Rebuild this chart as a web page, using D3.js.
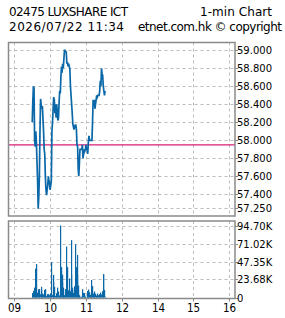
<!DOCTYPE html>
<html lang="en">
<head>
<meta charset="UTF-8">
<title>02475 1-min Chart</title>
<script src="https://cdn.jsdelivr.net/npm/d3@7/dist/d3.min.js"></script>
<style>
  body { margin: 0; background: #fff; }
  text { font-family: "DejaVu Sans", sans-serif; fill: #000; }
</style>
</head>
<body>
<script>
// chart data
var title = "02475 LUXSHARE ICT", chartType = "1-min Chart";
var stamp = "2026/07/22 11:34", credit = "etnet.com.hk \u00a9 copyright";
var startTime = "09:30";          // first minute of the series
var prevClose = 57.95;
// one close per minute from 09:30
var prices = [
  58.20, 58.43, 58.60, 58.58, 58.00, 57.93, 58.10, 57.98, 57.75, 57.55,
  57.24, 57.37, 57.60, 58.10, 58.46, 58.40, 58.35, 58.38, 58.24, 58.10,
  57.90, 57.85, 57.60, 57.45, 57.39, 57.45, 57.50, 57.60, 57.55, 57.52,
  57.45, 57.50, 57.55, 58.10, 58.20, 58.35, 58.48, 58.45, 58.30, 58.40,
  58.25, 58.40, 58.32, 58.22, 58.25, 58.42, 58.55, 58.52, 58.70, 58.82,
  58.75, 58.85, 58.80, 58.90, 59.00, 59.00, 58.99, 58.98, 58.85, 58.87,
  58.82, 58.85, 58.82, 58.80, 58.60, 58.50, 58.40, 58.30, 58.18, 58.15,
  58.12, 58.15, 58.17, 58.17, 58.12, 57.95, 57.93, 57.68, 57.60, 57.75,
  57.90, 57.90, 57.90, 57.90, 57.95, 57.80, 57.85, 57.90, 57.88, 57.90,
  57.95, 57.90, 57.90, 57.85, 57.98, 58.05, 58.00, 58.00, 58.00, 58.00,
  58.00, 58.20, 58.45, 58.40, 58.45, 58.35, 58.40, 58.45, 58.50, 58.48,
  58.50, 58.50, 58.50, 58.55, 58.66, 58.60, 58.80, 58.74, 58.72, 58.60,
  58.55, 58.50, 58.55
];
// volume per minute, in thousands
var volumes = [
  5.7, 5.0, 8.7, 13, 10, 38, 30, 44, 8, 6,
  11, 9, 11, 5.7, 4, 14, 10, 3.5, 5.2, 4,
  10, 8, 11, 2.6, 2, 4.4, 3, 3.5, 4.4, 3,
  5.2, 1, 46.7, 4.4, 3, 29.7, 20, 14, 2.6, 2,
  5.7, 3, 2.6, 13, 8, 2.6, 2, 8.7, 94.7, 40,
  30, 20, 13, 3.5, 3, 11, 7, 24, 67, 40,
  9.6, 6, 25, 11, 8, 75.5, 30, 13, 9.6, 6,
  14.8, 10, 25, 70, 40, 56, 30, 15.7, 4.4, 3,
  0.9, 0.9, 0.9, 0.9, 0.5, 11, 6, 6, 1.7, 1,
  0.9, 0.5, 4.4, 8.7, 6, 10.5, 7, 3.5, 1.7, 1,
  23, 15, 3.5, 5.2, 3, 8, 5, 2.6, 0.9, 0.5,
  5.2, 3, 3.5, 4.4, 3, 6.5, 4, 8, 8, 30.5,
  30.5, 10, 1
];
var priceTicks = [59.0, 58.8, 58.6, 58.4, 58.2, 58.0, 57.8, 57.6, 57.4, 57.25];
var volTicks = [94.70, 71.02, 47.35, 23.68, 0];
var volTickLabels = ["94.70K", "71.02K", "47.35K", "23.68K", "0"];
var hourTicks = ["09", "10", "11", "12", "14", "15", "16"];

var width = 285, height = 318;
var box = {left: 8.5, right: 235, top: 42.5, mid: 216, vTop: 221, vBottom: 298.5};
var blue = "#0a68a8", pink = "#d91c76", frame = "#8a8a8a", gridC = "#bdbdbd";

var svg = d3.select("body").append("svg").attr("width", width).attr("height", height);

// trading minutes since 09:00, lunch hour removed
function tradeMin(hhmm) {
  var p = hhmm.split(":"), m = (+p[0] - 9) * 60 + (+p[1]);
  return m > 180 ? m - 60 : m;
}
var t0 = tradeMin(startTime);

var x = d3.scaleLinear().domain([0, 360]).range([14.3, 229.3]);
var y = d3.scaleLinear().domain([57.25, 59]).range([207.8, 50.3]);
var yv = d3.scaleLinear().domain([0, 94.70]).range([297.5, 225.5]);

// header (fixed widths to mimic the bitmap font)
function head(str, hx, hy, len) {
  svg.append("text").attr("x", hx).attr("y", hy).style("font-size", "12px")
    .attr("textLength", len).attr("lengthAdjust", "spacing").text(str);
}
head(title, 9, 15.5, 119);
head(chartType, 200, 15.5, 72);
head(stamp, 9, 30.5, 115);
head(credit, 138, 30.5, 144);

// grids
var grid = svg.append("g").attr("stroke", gridC).attr("stroke-dasharray", "3,3").attr("stroke-width", 1);
hourTicks.forEach(function (h) {
  var gx = Math.round(x(tradeMin(h + ":00"))) + 0.5;
  grid.append("line").attr("x1", gx).attr("x2", gx).attr("y1", box.top).attr("y2", box.mid);
  grid.append("line").attr("x1", gx).attr("x2", gx).attr("y1", box.vTop).attr("y2", box.vBottom);
});
priceTicks.forEach(function (v) {
  var gy = Math.round(y(v)) + 0.5;
  grid.append("line").attr("x1", box.left).attr("x2", box.right).attr("y1", gy).attr("y2", gy);
});
volTicks.slice(0, 4).forEach(function (v) {
  var gy = Math.round(yv(v)) + 0.5;
  grid.append("line").attr("x1", box.left).attr("x2", box.right).attr("y1", gy).attr("y2", gy);
});

// previous close
svg.append("line").attr("x1", box.left).attr("x2", box.right)
  .attr("y1", y(prevClose)).attr("y2", y(prevClose))
  .attr("stroke", pink).attr("stroke-width", 1.2);

// price line
var line = d3.line()
  .x(function (d, i) { return x(t0 + i); })
  .y(function (d) { return y(d); });
svg.append("path").datum(prices).attr("d", line)
  .attr("fill", "none").attr("stroke", blue).attr("stroke-width", 1.7);

// volume bars
svg.append("g").selectAll("rect").data(volumes).enter().append("rect")
  .attr("x", function (d, i) { return Math.floor(x(t0 + i)); })
  .attr("width", 1.2)
  .attr("y", function (d) { return yv(d); })
  .attr("height", function (d) { return yv(0) - yv(d); })
  .attr("fill", blue);

// frames
[[box.top, box.mid], [box.vTop, box.vBottom]].forEach(function (r) {
  svg.append("rect").attr("x", box.left).attr("y", r[0])
    .attr("width", box.right - box.left).attr("height", r[1] - r[0])
    .attr("fill", "none").attr("stroke", frame).attr("stroke-width", 1.5);
});

// right axes
var pAxis = svg.append("g");
priceTicks.forEach(function (v) {
  var ty = Math.round(y(v)) + 0.5;
  pAxis.append("line").attr("x1", box.right).attr("x2", box.right + 3).attr("y1", ty).attr("y2", ty).attr("stroke", frame);
  pAxis.append("text").attr("x", 237).attr("y", ty + 3.8).style("font-size", "10px").text(d3.format(".3f")(v));
});
var vAxis = svg.append("g");
volTicks.forEach(function (v, i) {
  var ty = Math.round(yv(v)) + 0.5;
  vAxis.append("line").attr("x1", box.right).attr("x2", box.right + 3).attr("y1", ty).attr("y2", ty).attr("stroke", frame);
  vAxis.append("text").attr("x", 237).attr("y", ty + 3.8).style("font-size", "10px").text(volTickLabels[i]);
});

// bottom axis
var xAxis = svg.append("g");
hourTicks.forEach(function (h) {
  var tx = Math.round(x(tradeMin(h + ":00"))) + 0.5;
  xAxis.append("line").attr("x1", tx).attr("x2", tx).attr("y1", box.vBottom).attr("y2", box.vBottom + 3).attr("stroke", frame);
  xAxis.append("text").attr("x", tx).attr("y", 312).attr("text-anchor", "middle")
    .style("font-family", "'Liberation Sans Narrow', 'DejaVu Sans Condensed', sans-serif")
    .style("font-size", "11.5px").text(h);
});
</script>
</body>
</html>
